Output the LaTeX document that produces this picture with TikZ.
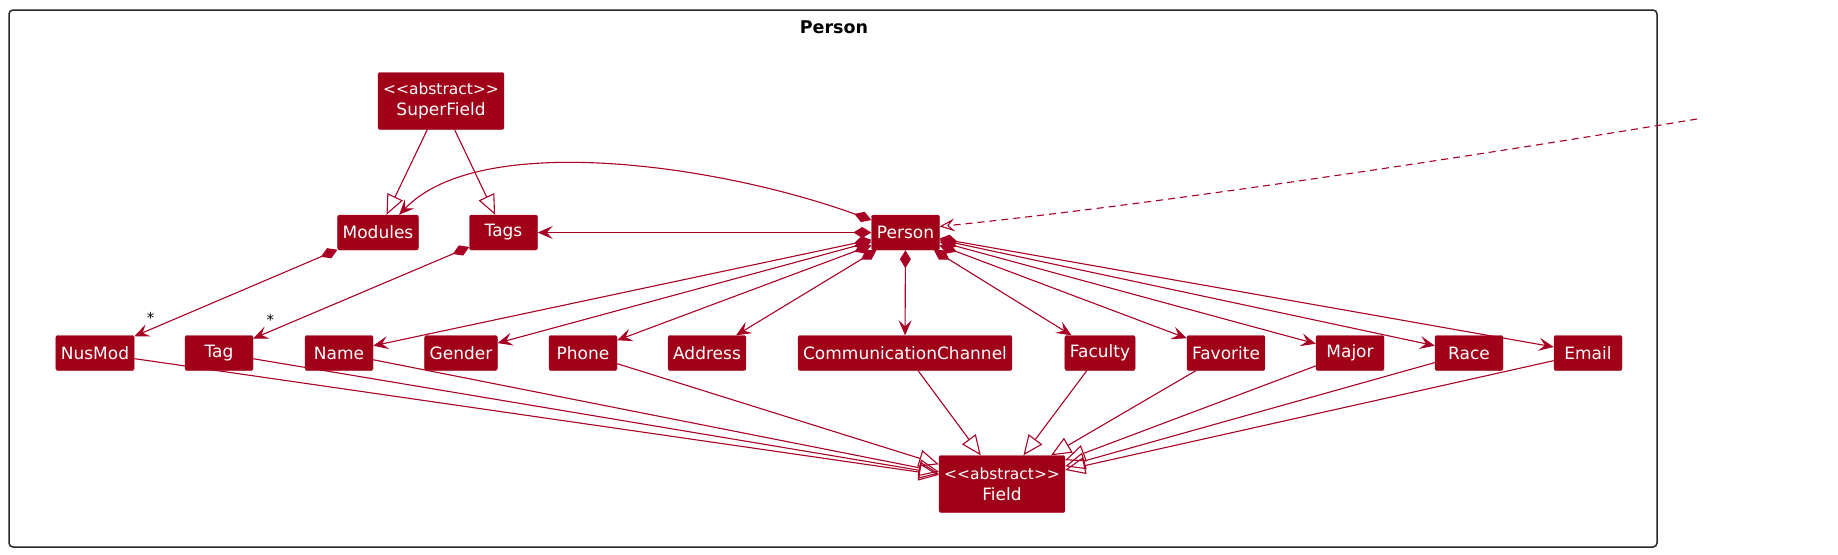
\documentclass[tikz,border=0pt]{standalone}
\usepackage{fontspec}
\setmainfont{DejaVu Sans}
\usepackage{tikz}
\usetikzlibrary{arrows.meta}
\definecolor{UMLRed}{RGB}{160, 0, 24}
\definecolor{UMLLine}{RGB}{168, 0, 36}

\begin{document}
\begin{tikzpicture}[
    x=1pt, y=-1pt,
    cls/.style={rectangle, draw=UMLRed, fill=UMLRed, text=white, rounded corners=2pt, minimum width=68pt, minimum height=35pt, inner xsep=5pt, inner ysep=2pt, align=center, font=\fontsize{17}{21}\selectfont},
    abscls/.style={cls, minimum height=57pt},
    comp/.style={arrows={Diamond[length=18pt,width=11pt]-Stealth[length=15pt,width=13pt,inset=6pt]}, UMLLine, line width=1.1pt},
    inherit/.style={arrows={-Triangle[open,length=20pt,width=17pt]}, UMLLine, line width=1.1pt},
    dep/.style={arrows={-Stealth[open,length=15pt,width=13pt,inset=6pt]}, UMLLine, line width=1.1pt, dash pattern=on 7pt off 5pt},
    mult/.style={font=\fontsize{15}{18}\selectfont, text=black, above=4pt, inner sep=1pt}
]
    \useasboundingbox (0,0) rectangle (1838,554);
    % Package frame
    \draw[black!85, line width=1.5pt, rounded corners=4pt] (9,10) rectangle (1657,547);
    \node[font=\fontsize{17.5}{21}\bfseries] (title) at (834,27) {Person};
    % Top: abstract super class and lists
    \node[abscls] (superfield) at (441,101) {{\fontsize{15.5}{19}\selectfont <{}<abstract>{}>}\\SuperField};
    \node[cls] (modules) at (378,232.5) {Modules};
    \node[cls] (tags) at (503.5,232.5) {Tags};
    \node[cls] (person) at (905.5,232.5) {Person};
    % Row of fields
    \node[cls] (nusmod) at (95,353) {NusMod};
    \node[cls] (tag) at (219,353) {Tag};
    \node[cls] (name) at (339,353) {Name};
    \node[cls] (gender) at (461,353) {Gender};
    \node[cls] (phone) at (583,353) {Phone};
    \node[cls] (address) at (707,353) {Address};
    \node[cls] (commchan) at (905,353) {CommunicationChannel};
    \node[cls] (faculty) at (1100,353) {Faculty};
    \node[cls] (favorite) at (1226,353) {Favorite};
    \node[cls] (major) at (1350,353) {Major};
    \node[cls] (race) at (1469,353) {Race};
    \node[cls] (email) at (1588,353) {Email};
    \node[abscls] (field) at (1002,484) {{\fontsize{15.5}{19}\selectfont <{}<abstract>{}>}\\Field};
    \coordinate (outside) at (1697,119);
    \draw[inherit] (superfield) -- (modules);
    \draw[inherit] (superfield) -- (tags);
    \draw[comp] (person.160) .. controls (720,165) and (480,130) .. (modules.40);
    \draw[comp] (person) -- (tags);
    \draw[comp] (modules) -- node[mult, pos=0.92] {*} (nusmod);
    \draw[comp] (tags) -- node[mult, pos=0.92] {*} (tag);
    \foreach \f in {name, gender, phone, address, commchan, faculty, favorite, major, race, email} { \draw[comp] (person) -- (\f); }
    \foreach \f in {nusmod, tag, name, phone, commchan, faculty, favorite, major, race, email} { \draw[inherit] (\f) -- (field); }
    \draw[dep] (outside) .. controls (1450,160) and (1150,205) .. (person.10);
\end{tikzpicture}
\end{document}
